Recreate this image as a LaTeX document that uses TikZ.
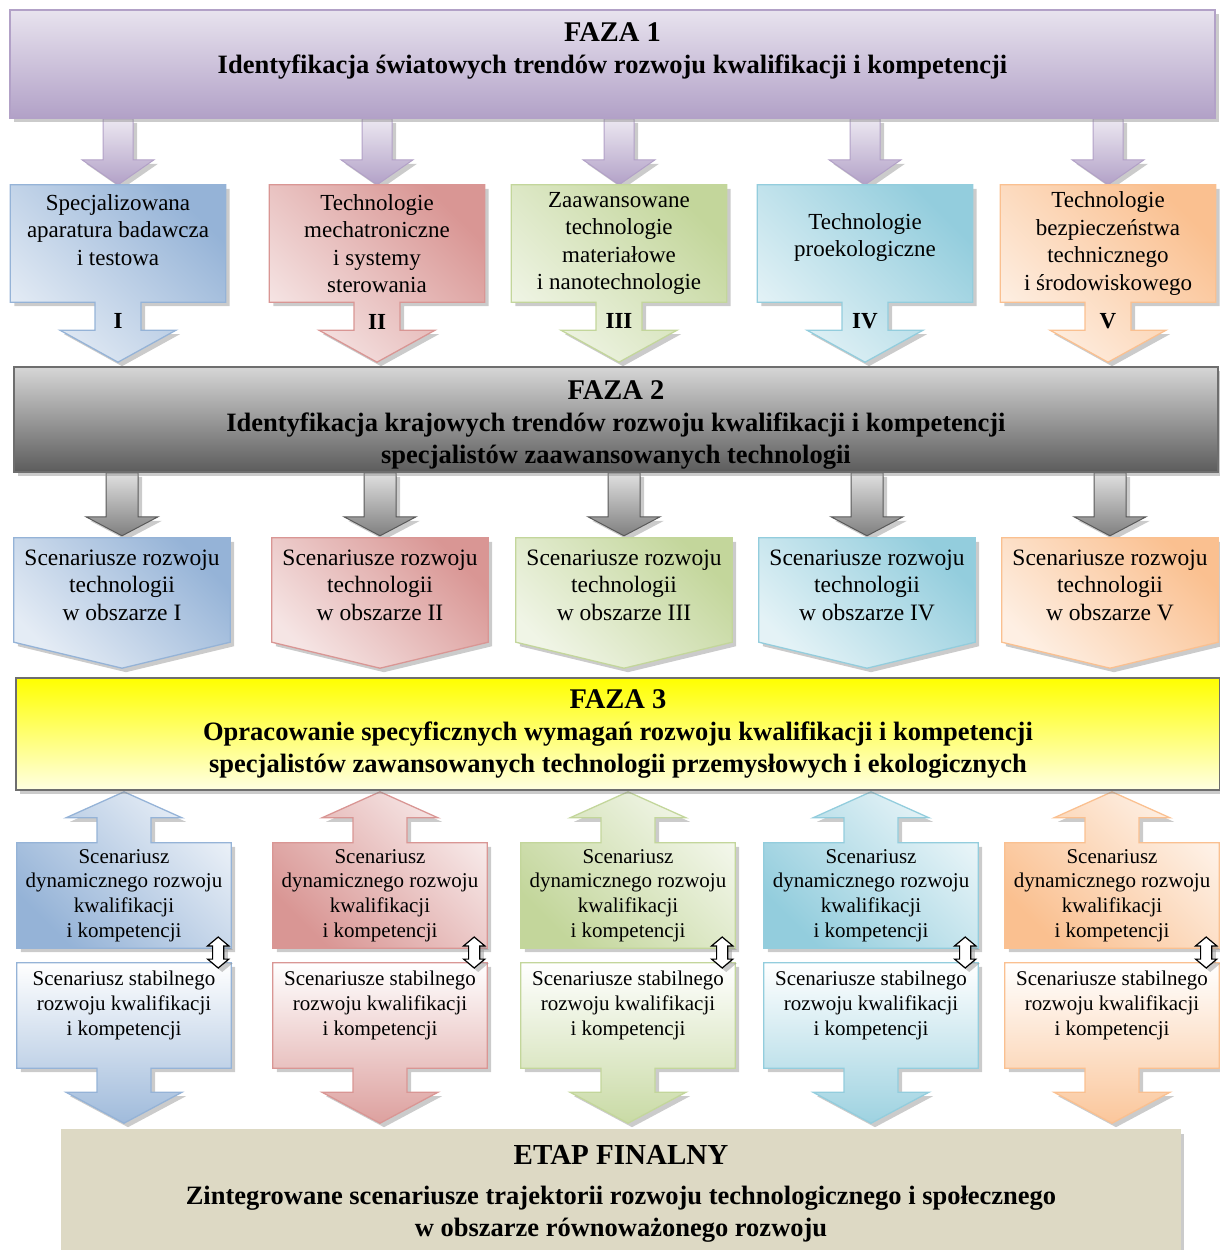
\documentclass[tikz,border=0pt]{standalone}
\usepackage{fontspec}
\setmainfont{Liberation Serif}
\usetikzlibrary{calc, shadows, shapes.arrows, backgrounds}
\definecolor{TrendPurple}{RGB}{178,161,199}
\definecolor{TrendBlue}{RGB}{149,179,215}
\definecolor{TrendRed}{RGB}{217,150,148}
\definecolor{TrendGreen}{RGB}{195,214,155}
\definecolor{TrendCyan}{RGB}{147,205,221}
\definecolor{TrendOrange}{RGB}{250,192,144}
\definecolor{PhaseGrayTop}{RGB}{214,214,214}
\definecolor{PhaseGrayBottom}{RGB}{92,92,92}
\definecolor{PhaseYellow}{RGB}{255,255,0}
\definecolor{PhaseYellowLight}{RGB}{255,255,226}
\definecolor{FinalBeige}{RGB}{221,217,196}
\definecolor{FrameGray}{RGB}{110,110,110}

\begin{document}
\begin{tikzpicture}[x=1pt, y=-1pt,
    boxshadow/.style={drop shadow={shadow xshift=4pt, shadow yshift=-4pt, opacity=.45, fill=black!45}},
    phase/.style={draw=#1, line width=1.5pt, align=center, inner sep=0pt, font=\bfseries\fontsize{26.5}{32}\selectfont, boxshadow},
    trendtxt/.style={align=center, inner sep=0pt, minimum width=215pt, minimum height=117pt, font=\fontsize{23}{27.5}\selectfont},
    scentxt/.style={align=center, inner sep=0pt, minimum width=216pt, minimum height=94pt, font=\fontsize{23.5}{27.5}\selectfont},
    kompdyn/.style={align=center, inner sep=0pt, minimum width=214pt, minimum height=105pt, font=\fontsize{21}{24.7}\selectfont},
    kompstab/.style={align=center, inner sep=0pt, minimum width=214pt, minimum height=85pt, font=\fontsize{21}{24.7}\selectfont},
    numlabel/.style={inner sep=0pt, font=\bfseries\fontsize{23}{26}\selectfont},
    swaparrow/.style={double arrow, draw=black, line width=1.2pt, fill=white, rotate=90, minimum height=31pt, inner sep=5pt, double arrow head extend=5pt, double arrow tip angle=100, boxshadow},
    trendshape/.style={draw=#1, line width=1.3pt, top color=#1, bottom color=#1!25!white, shading angle=-45, boxshadow},
    dynshape/.style={draw=#1, line width=1.3pt, top color=#1!20!white, bottom color=#1, shading angle=-45, boxshadow},
    stabshape/.style={draw=#1, line width=1.3pt, top color=white, bottom color=#1!90!white, boxshadow},
    purplearrow/.style={draw=TrendPurple, line width=1pt, top color=TrendPurple!25!white, bottom color=TrendPurple, boxshadow},
    grayarrow/.style={draw=black!65, line width=1pt, top color=black!12, bottom color=black!50, boxshadow}]
    \useasboundingbox (0,0) rectangle (1220,1250);

    % --- FAZY ---
    \node[phase=TrendPurple, top color=TrendPurple!30!white, bottom color=TrendPurple, minimum width=1205pt, minimum height=108pt] (faza1) at (612.5,64) {{\fontsize{28.5}{32}\selectfont FAZA 1}\\Identyfikacja światowych trendów rozwoju kwalifikacji i kompetencji\\\mbox{}};
    \node[phase=FrameGray, top color=PhaseGrayTop, bottom color=PhaseGrayBottom, minimum width=1204pt, minimum height=105pt] (faza2) at (616,419.5) {\mbox{}\\[-3pt]{\fontsize{28.5}{32}\selectfont FAZA 2}\\Identyfikacja krajowych trendów rozwoju kwalifikacji i kompetencji\\specjalistów zaawansowanych technologii};
    \node[phase=FrameGray, top color=PhaseYellow, bottom color=PhaseYellowLight, minimum width=1204pt, minimum height=112pt] (faza3) at (618,734) {{\fontsize{28.5}{32}\selectfont FAZA 3}\\Opracowanie specyficznych wymagań rozwoju kwalifikacji i kompetencji\\specjalistów zawansowanych technologii przemysłowych i ekologicznych};
    \node[phase=FinalBeige, fill=FinalBeige, minimum width=1118pt, minimum height=128pt] (final) at (621,1194) {{\fontsize{29}{40}\selectfont ETAP FINALNY}\\[8pt]Zintegrowane scenariusze trajektorii rozwoju technologicznego i społecznego\\w obszarze równoważonego rozwoju};

    % --- OBSZARY ---
    \node[trendtxt] (trend1) at (118,243.5) {Specjalizowana\\aparatura badawcza\\i testowa\\\mbox{}};
    \node[trendtxt] (trend2) at (377,243.5) {Technologie\\mechatroniczne\\i systemy\\sterowania};
    \node[trendtxt] (trend3) at (619,243.5) {Zaawansowane\\technologie\\materiałowe\\i nanotechnologie};
    \node[trendtxt] (trend4) at (865,243.5) {Technologie\\proekologiczne\\[-11pt]\mbox{}};
    \node[trendtxt] (trend5) at (1108,243.5) {Technologie\\bezpieczeństwa\\technicznego\\i środowiskowego};
    \node[numlabel] (num1) at ($(trend1.south)+(0,19)$) {I};
    \node[numlabel] (num2) at ($(trend2.south)+(0,20)$) {II};
    \node[numlabel] (num3) at ($(trend3.south)+(0,19)$) {III};
    \node[numlabel] (num4) at ($(trend4.south)+(0,19)$) {IV};
    \node[numlabel] (num5) at ($(trend5.south)+(0,19)$) {V};

    % --- SCENARIUSZE TECHNOLOGII ---
    \node[scentxt] (scen1) at (122,585) {Scenariusze rozwoju\\technologii\\w obszarze I};
    \node[scentxt] (scen2) at (380,585) {Scenariusze rozwoju\\technologii\\w obszarze II};
    \node[scentxt] (scen3) at (624,585) {Scenariusze rozwoju\\technologii\\w obszarze III};
    \node[scentxt] (scen4) at (867,585) {Scenariusze rozwoju\\technologii\\w obszarze IV};
    \node[scentxt] (scen5) at (1110,585) {Scenariusze rozwoju\\technologii\\w obszarze V};

    % --- SCENARIUSZE KOMPETENCJI ---
    \node[kompdyn] (dyn1) at (124,895.5) {Scenariusz\\dynamicznego rozwoju\\kwalifikacji\\i kompetencji};
    \node[kompdyn] (dyn2) at (380,895.5) {Scenariusz\\dynamicznego rozwoju\\kwalifikacji\\i kompetencji};
    \node[kompdyn] (dyn3) at (628,895.5) {Scenariusz\\dynamicznego rozwoju\\kwalifikacji\\i kompetencji};
    \node[kompdyn] (dyn4) at (871,895.5) {Scenariusz\\dynamicznego rozwoju\\kwalifikacji\\i kompetencji};
    \node[kompdyn] (dyn5) at (1112,895.5) {Scenariusz\\dynamicznego rozwoju\\kwalifikacji\\i kompetencji};
    \node[kompstab] (stab1) at (124,1005.5) {Scenariusz stabilnego\\rozwoju kwalifikacji\\i kompetencji};
    \node[kompstab] (stab2) at (380,1005.5) {Scenariusze stabilnego\\rozwoju kwalifikacji\\i kompetencji};
    \node[kompstab] (stab3) at (628,1005.5) {Scenariusze stabilnego\\rozwoju kwalifikacji\\i kompetencji};
    \node[kompstab] (stab4) at (871,1005.5) {Scenariusze stabilnego\\rozwoju kwalifikacji\\i kompetencji};
    \node[kompstab] (stab5) at (1112,1005.5) {Scenariusze stabilnego\\rozwoju kwalifikacji\\i kompetencji};
    \node[swaparrow] (swap1) at ($(dyn1.south east)!.5!(stab1.north east)+(-13,-3)$) {};
    \node[swaparrow] (swap2) at ($(dyn2.south east)!.5!(stab2.north east)+(-13,-3)$) {};
    \node[swaparrow] (swap3) at ($(dyn3.south east)!.5!(stab3.north east)+(-13,-3)$) {};
    \node[swaparrow] (swap4) at ($(dyn4.south east)!.5!(stab4.north east)+(-13,-3)$) {};
    \node[swaparrow] (swap5) at ($(dyn5.south east)!.5!(stab5.north east)+(-13,-3)$) {};

    % Block arrows and boxes behind the texts
    \begin{scope}[on background layer]
        \foreach \n/\col in {1/TrendBlue, 2/TrendRed, 3/TrendGreen, 4/TrendCyan, 5/TrendOrange} {
            \path[purplearrow] ($(faza1.south -| trend\n.north)+(-15,0)$) -- ($(trend\n.north)+(-15,-25)$) -- ($(trend\n.north)+(-36,-25)$) -- (trend\n.north) -- ($(trend\n.north)+(36,-25)$) -- ($(trend\n.north)+(15,-25)$) -- ($(faza1.south -| trend\n.north)+(15,0)$) -- cycle;
            \path[trendshape=\col] (trend\n.north west) -- (trend\n.north east) -- (trend\n.south east) -- ($(trend\n.south)+(23,0)$) -- ($(trend\n.south)+(23,28)$) -- ($(trend\n.south)+(58,28)$) -- ($(trend\n.south)+(0,60)$) -- ($(trend\n.south)+(-58,28)$) -- ($(trend\n.south)+(-23,28)$) -- ($(trend\n.south)+(-23,0)$) -- (trend\n.south west) -- cycle;
            \path[grayarrow] ($(faza2.south -| scen\n.north)+(-16,0)$) -- ($(scen\n.north)+(-16,-21)$) -- ($(scen\n.north)+(-36,-21)$) -- ($(scen\n.north)+(0,-2)$) -- ($(scen\n.north)+(36,-21)$) -- ($(scen\n.north)+(16,-21)$) -- ($(faza2.south -| scen\n.north)+(16,0)$) -- cycle;
            \path[trendshape=\col] (scen\n.north west) -- (scen\n.north east) -- ($(scen\n.south east)+(0,10)$) -- ($(scen\n.south)+(0,36)$) -- ($(scen\n.south west)+(0,10)$) -- cycle;
            \path[dynshape=\col] (dyn\n.south west) -- (dyn\n.north west) -- ($(dyn\n.north)+(-27,0)$) -- ($(dyn\n.north)+(-27,-25)$) -- ($(dyn\n.north)+(-58,-25)$) -- ($(dyn\n.north)+(0,-51)$) -- ($(dyn\n.north)+(58,-25)$) -- ($(dyn\n.north)+(27,-25)$) -- ($(dyn\n.north)+(27,0)$) -- (dyn\n.north east) -- (dyn\n.south east) -- cycle;
            \path[stabshape=\col] (stab\n.north west) -- (stab\n.north east) -- ($(stab\n.south east)+(0,20)$) -- ($(stab\n.south)+(27,20)$) -- ($(stab\n.south)+(27,44)$) -- ($(stab\n.south)+(58,44)$) -- ($(stab\n.south)+(0,75)$) -- ($(stab\n.south)+(-58,44)$) -- ($(stab\n.south)+(-27,44)$) -- ($(stab\n.south)+(-27,20)$) -- ($(stab\n.south west)+(0,20)$) -- cycle;
        }
    \end{scope}
\end{tikzpicture}
\end{document}
